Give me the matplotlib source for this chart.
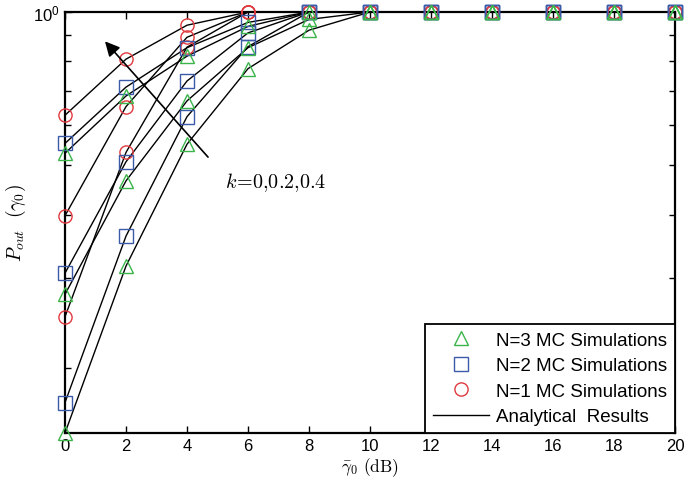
import matplotlib
matplotlib.use('Agg')
import matplotlib.pyplot as plt
import numpy as np
from matplotlib.lines import Line2D
from matplotlib.ticker import FixedLocator, NullFormatter

plt.rcParams['font.family'] = ['Liberation Sans', 'DejaVu Sans']
plt.rcParams['mathtext.fontset'] = 'cm'

# SNR axis (dB)
snr = [0, 2, 4, 6, 8, 10, 12, 14, 16, 18, 20]

# outage probability, three k values per N (k high -> low)
n1_k_hi  = [0.627, 0.808, 0.942, 1.0, 1.0, 1.0, 1.0, 1.0, 1.0, 1.0, 1.0]
n1_k_mid = [0.398, 0.652, 0.892, 1.0, 1.0, 1.0, 1.0, 1.0, 1.0, 1.0, 1.0]
n1_k_lo  = [0.252, 0.530, 0.853, 1.0, 1.0, 1.0, 1.0, 1.0, 1.0, 1.0, 1.0]

n2_k_hi  = [0.552, 0.712, 0.851, 0.954, 1.0, 1.0, 1.0, 1.0, 1.0, 1.0, 1.0]
n2_k_mid = [0.307, 0.508, 0.732, 0.910, 1.0, 1.0, 1.0, 1.0, 1.0, 1.0, 1.0]
n2_k_lo  = [0.171, 0.363, 0.623, 0.855, 1.0, 1.0, 1.0, 1.0, 1.0, 1.0, 1.0]

n3_k_hi  = [0.528, 0.684, 0.819, 0.937, 1.0, 1.0, 1.0, 1.0, 1.0, 1.0, 1.0]
n3_k_mid = [0.279, 0.466, 0.669, 0.851, 0.967, 1.0, 1.0, 1.0, 1.0, 1.0, 1.0]
n3_k_lo  = [0.149, 0.317, 0.550, 0.774, 0.921, 1.0, 1.0, 1.0, 1.0, 1.0, 1.0]

red = '#e0393e'
blue = '#3b5ba8'
green = '#3bb44a'

fig = plt.figure(figsize=(6.85, 4.89), dpi=100)
ax = fig.add_axes([0.0949, 0.1125, 0.8905, 0.8609])

# N=1 first so the triangles end up on top, like the original
groups = [
    ([n1_k_hi, n1_k_mid, n1_k_lo], 'o', red),
    ([n2_k_hi, n2_k_mid, n2_k_lo], 's', blue),
    ([n3_k_hi, n3_k_mid, n3_k_lo], '^', green),
]
for curves, mk, col in groups:
    for c in curves:
        ax.plot(snr, c, color='black', lw=1.0, zorder=2)
        ax.plot(snr, c, linestyle='none', marker=mk, ms=9.5, mfc='none',
                mec=col, mew=1.0, clip_on=False, zorder=3)

ax.set_yscale('log')
ax.set_xlim(0, 20)
ax.set_ylim(0.149, 1.0)
ax.set_xticks(snr)
ax.yaxis.set_major_locator(FixedLocator([1.0]))
ax.yaxis.set_minor_locator(FixedLocator([0.2, 0.3, 0.4, 0.5, 0.6, 0.7, 0.8, 0.9]))
ax.yaxis.set_minor_formatter(NullFormatter())
ax.tick_params(which='both', direction='in', top=True, right=True,
               labelsize=12, width=1.0)
ax.tick_params(which='major', length=5)
ax.tick_params(which='minor', length=4)
for s in ax.spines.values():
    s.set_linewidth(1.6)

ax.set_xlabel(r'$\bar{\gamma}_0\ \mathrm{(dB)}$', fontsize=12.5, labelpad=2)
ax.set_ylabel(r'$P_{out}\ \ (\gamma_0)$', fontsize=14, labelpad=4)

ax.annotate('', xy=(1.25, 0.884), xytext=(4.75, 0.514),
            arrowprops=dict(arrowstyle='-|>', color='black', lw=1.2,
                            mutation_scale=22))
ax.text(5.25, 0.465, r'$k\!=\!0{,}0.2{,}0.4$', fontsize=14.5, ha='left', va='center')

handles = [
    Line2D([], [], linestyle='none', marker='^', ms=9.5, mfc='none', mec=green),
    Line2D([], [], linestyle='none', marker='s', ms=9.5, mfc='none', mec=blue),
    Line2D([], [], linestyle='none', marker='o', ms=9.5, mfc='none', mec=red),
    Line2D([], [], color='black', lw=1.0),
]
labels = ['N=3 MC Simulations', 'N=2 MC Simulations', 'N=1 MC Simulations',
          'Analytical  Results']
leg = ax.legend(handles, labels, loc='lower right', borderaxespad=0,
                fontsize=13.5, fancybox=False, edgecolor='black',
                framealpha=1, handlelength=3.0, handletextpad=0.4,
                labelspacing=0.45, borderpad=0.4)
leg.get_frame().set_linewidth(1.3)

fig.savefig('out.png', dpi=100)
